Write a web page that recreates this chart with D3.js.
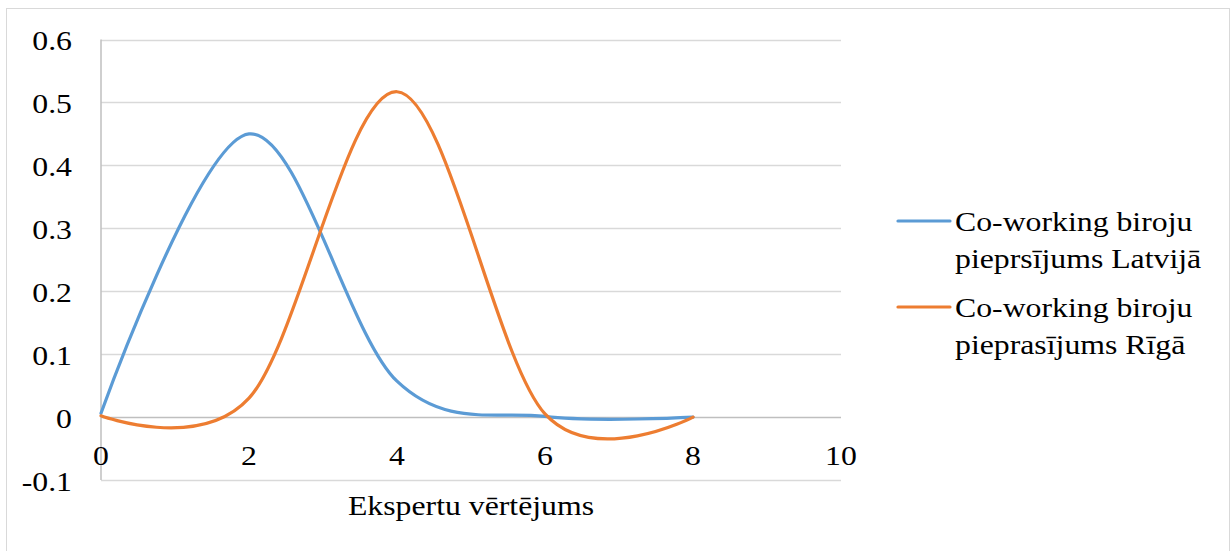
<!DOCTYPE html>
<html>
<head>
<meta charset="utf-8">
<script src="https://cdn.jsdelivr.net/npm/d3@7"></script>
<style>
  body { margin: 0; background: #fff; }
</style>
</head>
<body>
<div id="chart"></div>
<script>
// expert rating points
var ratings = [0, 2, 4, 6, 8];
var latvia = [0.006, 0.45, 0.057, 0.001, 0];
var riga   = [0.002, 0.03, 0.517, 0.005, 0];
var xTicks = [0, 2, 4, 6, 8, 10];
var yTicks = [-0.1, 0, 0.1, 0.2, 0.3, 0.4, 0.5, 0.6];
var seriesNames = [
  ["Co-working biroju", "pieprsījums Latvijā"],
  ["Co-working biroju", "pieprasījums Rīgā"]
];
var colors = ["#5b9bd5", "#ed7d31"];

var W = 1231, H = 551;
var SX = 1.135; // the original picture is a bit stretched sideways

var svg = d3.select("#chart").append("svg")
  .attr("width", W).attr("height", H);

// helper: text placed at (px, py), stretched horizontally
function label(g, px, py, txt, anchor){
  return g.append("text")
    .attr("transform", "translate(" + px + "," + py + ") scale(" + SX + ",1)")
    .attr("text-anchor", anchor || "start")
    .attr("font-size", 28)
    .attr("fill", "#000")
    .style("font-family", "'Liberation Serif', 'Times New Roman', serif")
    .text(txt);
}

// outer chart border
svg.append("rect")
  .attr("x", 6.5).attr("y", 8.5)
  .attr("width", 1223).attr("height", 560)
  .attr("fill", "none").attr("stroke", "#d9d9d9").attr("stroke-width", 1);

var x = d3.scaleLinear().domain([0, 10]).range([101, 841]);
var y = d3.scaleLinear().domain([-0.1, 0.6]).range([480, 39.5]);

// gridlines
svg.append("g").selectAll("line")
  .data(yTicks)
  .enter().append("line")
  .attr("x1", x(0)).attr("x2", x(10))
  .attr("y1", function(d){ return Math.round(y(d)) + 0.5 })
  .attr("y2", function(d){ return Math.round(y(d)) + 0.5 })
  .attr("stroke", function(d){ return d === 0 ? "#bfbfbf" : "#d9d9d9" })
  .attr("stroke-width", 1.5);

// vertical axis line
svg.append("line")
  .attr("x1", x(0)).attr("x2", x(0))
  .attr("y1", y(0.6)).attr("y2", y(-0.1))
  .attr("stroke", "#bfbfbf").attr("stroke-width", 1.5);

// y tick labels
var gy = svg.append("g");
yTicks.forEach(function(d){
  label(gy, 72, y(d) + 10.5, String(Math.round(d * 10) / 10), "end");
});

// x tick labels (under the zero line)
var gx = svg.append("g");
xTicks.forEach(function(d){
  label(gx, x(d), 465, String(d), "middle");
});

label(svg, 471, 515, "Ekspertu vērtējums", "middle");

var line = d3.line()
  .x(function(d){ return x(d[0]) })
  .y(function(d){ return y(d[1]) })
  .curve(d3.curveCardinal.tension(0));

[latvia, riga].forEach(function(vals, i){
  svg.append("path")
    .datum(d3.zip(ratings, vals))
    .attr("d", line)
    .attr("fill", "none")
    .attr("stroke", colors[i])
    .attr("stroke-width", 3.2)
    .attr("stroke-linecap", "round");
});

// legend
var legend = svg.append("g");
seriesNames.forEach(function(lines, i){
  var top = 221 + i * 86;
  legend.append("line")
    .attr("x1", 898).attr("x2", 950)
    .attr("y1", top).attr("y2", top)
    .attr("stroke", colors[i]).attr("stroke-width", 3.2)
    .attr("stroke-linecap", "round");
  lines.forEach(function(t, j){
    label(legend, 955, top + 9.5 + j * 37.5, t);
  });
});
</script>
</body>
</html>
